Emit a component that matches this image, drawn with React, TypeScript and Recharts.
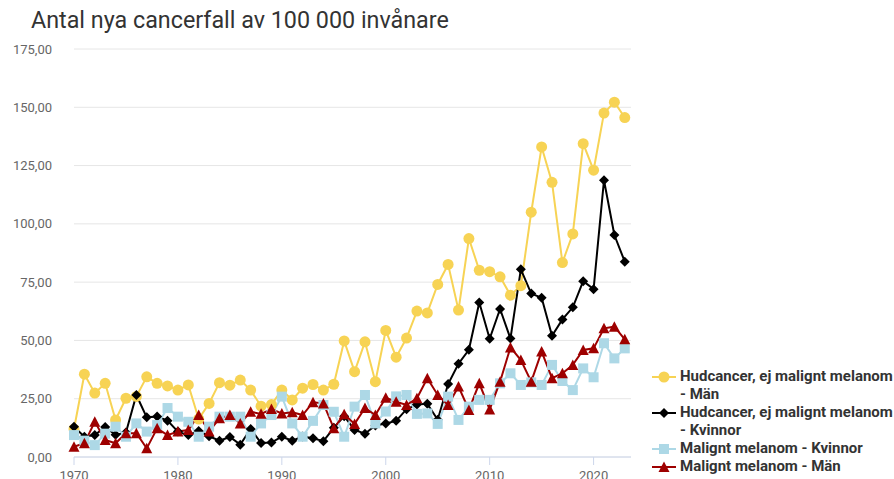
import { LineChart, Line, XAxis, YAxis, CartesianGrid } from 'recharts'

const years = [
  1970, 1971, 1972, 1973, 1974, 1975, 1976, 1977, 1978, 1979,
  1980, 1981, 1982, 1983, 1984, 1985, 1986, 1987, 1988, 1989,
  1990, 1991, 1992, 1993, 1994, 1995, 1996, 1997, 1998, 1999,
  2000, 2001, 2002, 2003, 2004, 2005, 2006, 2007, 2008, 2009,
  2010, 2011, 2012, 2013, 2014, 2015, 2016, 2017, 2018, 2019,
  2020, 2021, 2022, 2023,
]

// Hudcancer, ej malignt melanom - Män
const hudMan = [
  12, 35.5, 27.4, 31.6, 15.9, 25.2, 26, 34.4, 31.6, 30.5,
  28.7, 30.9, 16.3, 23, 31.9, 30.8, 33, 28.7, 21.8, 22.5,
  28.7, 24.5, 29.5, 31.1, 28.7, 31.2, 49.8, 36.6, 49.4, 32.3,
  54.3, 42.8, 51, 62.6, 61.8, 74, 82.6, 63, 93.7, 80.1,
  79.5, 77.3, 69.4, 73.5, 105, 133, 117.8, 83.4, 95.7, 134.4,
  123, 147.5, 152.2, 145.6,
]

// Hudcancer, ej malignt melanom - Kvinnor
const hudKvinnor = [
  13, 8.7, 9.4, 12.9, 9.5, 10.5, 26.6, 17, 17.4, 15.6,
  10.9, 9.4, 11.2, 8.9, 7, 8.6, 5.3, 12, 6, 6.2,
  8.7, 7, 8.8, 8, 6.8, 12.5, 17.5, 11.6, 10, 13.5,
  14.4, 15.5, 20.5, 22.5, 22.8, 16, 31.3, 40, 46, 66.3,
  50.7, 63.5, 50.8, 80.5, 70.1, 68.3, 52, 59, 64.2, 75.4,
  72, 118.7, 95.2, 83.8,
]

// Malignt melanom - Kvinnor
const melKvinnor = [
  9.4, 7, 5.1, 10, 13, 8.7, 14.4, 10.9, 13.7, 21,
  17.3, 15.1, 8.7, 13, 17.3, 17.3, 17.3, 8.7, 14.4, 18,
  25.9, 14.4, 8.7, 15.5, 22.3, 19.4, 8.7, 21.6, 26.6, 14.4,
  19.5, 26, 26.6, 18.5, 18.7, 14.2, 25.9, 15.9, 21.6, 24.5,
  24.5, 31.6, 35.9, 30.9, 32, 30.9, 39.5, 32.6, 28.7, 38,
  34.2, 48.8, 42.3, 46.6,
]

// Malignt melanom - Män
const melMan = [
  4.4, 5.9, 15.1, 7.3, 5.9, 10.2, 10.2, 3.7, 12.3, 9.4,
  10.9, 11.6, 18, 10.9, 16.6, 18, 14.4, 19.4, 18.5, 20.6,
  18.7, 19.2, 18, 23.5, 23, 12.3, 18.3, 14.2, 21, 18,
  25.4, 23.7, 22.3, 25.2, 33.8, 26.6, 22.3, 30.2, 20.2, 31.6,
  20.4, 32.3, 47, 41.6, 32.3, 45.2, 33.8, 35.9, 39.5, 45.9,
  46.6, 55.2, 55.9, 50.5,
]

const yTicks = [0, 25, 50, 75, 100, 125, 150, 175]
const xTicks = [1970, 1980, 1990, 2000, 2010, 2020]

const data = years.map((year, i) => ({
  year,
  hudMan: hudMan[i],
  hudKvinnor: hudKvinnor[i],
  melKvinnor: melKvinnor[i],
  melMan: melMan[i],
}))

type Shape = 'circle' | 'diamond' | 'square' | 'triangle'

function Marker({ shape, x, y, color }: { shape: Shape; x: number; y: number; color: string }) {
  if (shape === 'circle') return <circle cx={x} cy={y} r={5.5} fill={color} />
  if (shape === 'diamond')
    return <path d={`M${x} ${y - 5}L${x + 5} ${y}L${x} ${y + 5}L${x - 5} ${y}Z`} fill={color} />
  if (shape === 'square') return <rect x={x - 5} y={y - 5} width={10} height={10} fill={color} />
  return <path d={`M${x} ${y - 5.5}L${x + 5.5} ${y + 5}L${x - 5.5} ${y + 5}Z`} fill={color} />
}

const series = [
  { key: 'hudMan', name: 'Hudcancer, ej malignt melanom - Män', color: '#f7d354', shape: 'circle' as Shape },
  { key: 'hudKvinnor', name: 'Hudcancer, ej malignt melanom - Kvinnor', color: '#000000', shape: 'diamond' as Shape },
  { key: 'melKvinnor', name: 'Malignt melanom - Kvinnor', color: '#add8e6', shape: 'square' as Shape },
  { key: 'melMan', name: 'Malignt melanom - Män', color: '#9e0000', shape: 'triangle' as Shape },
]

const fmt = (v: number) => v.toFixed(2).replace('.', ',')

export default function App() {
  return (
    <div style={{ position: 'absolute', left: 0, top: 0, width: 894, height: 479, background: '#fff', fontFamily: 'Roboto, sans-serif', overflow: 'hidden' }}>
      <div style={{ position: 'absolute', left: 31, top: 6, fontSize: 23.3, color: '#333', whiteSpace: 'nowrap' }}>
        Antal nya cancerfall av 100 000 invånare
      </div>
      <LineChart width={894} height={479} data={data} margin={{ top: 49, right: 263, bottom: 0, left: 0 }}>
        <CartesianGrid vertical={false} stroke="#e6e6e6" />
        <XAxis
          dataKey="year"
          type="number"
          domain={[1970, 2023.6]}
          ticks={xTicks}
          height={22}
          tickSize={8}
          tickMargin={6}
          axisLine={{ stroke: '#ccd6eb' }}
          tickLine={{ stroke: '#ccd6eb' }}
          tick={{ fill: '#666', fontSize: 13 }}
        />
        <YAxis
          type="number"
          domain={[0, 175]}
          ticks={yTicks}
          width={74}
          axisLine={false}
          tickLine={false}
          tickSize={0}
          tickMargin={22}
          tickFormatter={fmt}
          tick={{ fill: '#666', fontSize: 13 }}
        />
        {series.map(s => (
          <Line
            key={s.key}
            dataKey={s.key}
            stroke={s.color}
            strokeWidth={2}
            isAnimationActive={false}
            dot={(p: any) => <Marker key={`${s.key}-${p.index}`} shape={s.shape} x={p.cx} y={p.cy} color={s.color} />}
            activeDot={false}
          />
        ))}
      </LineChart>
      <div style={{ position: 'absolute', left: 650, top: 367, width: 244, fontSize: 15, fontWeight: 700, color: '#333', lineHeight: '18px' }}>
        {series.map(s => (
          <div key={s.key} style={{ position: 'relative', paddingLeft: 30, width: 214 }}>
            <svg width={26} height={14} style={{ position: 'absolute', left: 1, top: 3 }}>
              <line x1={1} y1={7} x2={25} y2={7} stroke={s.color} strokeWidth={2} />
              <Marker shape={s.shape} x={13} y={7} color={s.color} />
            </svg>
            {s.name}
          </div>
        ))}
      </div>
    </div>
  )
}
